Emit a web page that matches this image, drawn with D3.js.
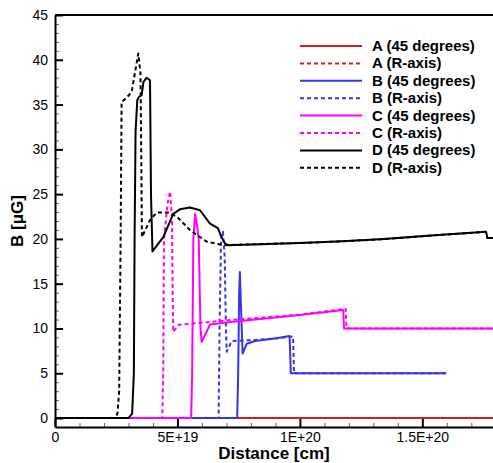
<!DOCTYPE html>
<html><head><meta charset="utf-8">
<script src="https://cdn.jsdelivr.net/npm/d3@7/dist/d3.min.js"></script>
<style>body{margin:0;background:#fff}svg{display:block;font-family:"Liberation Sans",Arial,Helvetica,sans-serif}</style>
</head><body>
<svg id="chart" width="493" height="463"></svg>
<script>
// Distances are given in units of 1E19 cm
const X_UNIT = 1e19;
const xTickValues = [0, 5e19, 1e20, 1.5e20];
const xTickLabels = ["0", "5E+19", "1E+20", "1.5E+20"];
const yTickValues = [0, 5, 10, 15, 20, 25, 30, 35, 40, 45];
const yTickLabels = ["0", "5", "10", "15", "20", "25", "30", "35", "40", "45"];

const seriesNames = ["A (45 degrees)", "A (R-axis)", "B (45 degrees)", "B (R-axis)",
                     "C (45 degrees)", "C (R-axis)", "D (45 degrees)", "D (R-axis)"];

const aDeg45 = [[0,0],[17.95,0]];
const aRaxis = [[0,0],[17.95,0]];
const bDeg45 = [[0,0],[7.44,0],[7.48,5],[7.52,14],[7.55,16.3],[7.6,12],[7.66,7.2],[7.83,8.3],[8.17,8.6],[9.05,8.9],[9.58,9.15],[9.63,5.0],[15.97,5.0]];
const bRaxis = [[0,0],[6.68,0],[6.72,10],[6.78,20],[6.86,20.8],[6.93,18],[6.98,10],[7.01,7.4],[7.22,8.6],[8.0,8.7],[9.05,8.9],[9.72,9.1],[9.76,5.0],[15.97,5.0]];
const cDeg45 = [[0,0],[5.56,0],[5.6,5],[5.65,20],[5.72,22.8],[5.8,21.5],[5.87,20],[5.94,10],[5.99,8.5],[6.33,10.45],[7.27,10.75],[10.0,11.5],[11.77,12.05],[11.8,10.0],[17.95,10.0]];
const cRaxis = [[0,0],[4.38,0],[4.42,5],[4.45,20],[4.6,24],[4.7,25.3],[4.78,22],[4.8,15],[4.83,9.6],[5.04,10.4],[7.0,10.9],[10.0,11.55],[11.87,12.2],[11.9,10.0],[17.95,10.0]];
const dDeg45 = [[0,0],[3.0,0],[3.15,0.5],[3.22,5],[3.25,20],[3.29,32],[3.36,35.5],[3.44,35.9],[3.54,36.05],[3.61,37.5],[3.74,38.0],[3.88,37.7],[3.92,25],[3.98,18.6],[4.42,20.2],[4.83,22.8],[5.10,23.3],[5.51,23.5],[5.92,23.2],[6.33,21.7],[6.65,21.2],[6.8,20.2],[6.94,19.5],[7.06,19.3],[10.0,19.55],[11.5,19.7],[13.27,19.95],[15.5,20.4],[17.6,20.8],[17.66,20.1],[17.95,20.1]];
const dRaxis = [[0,0],[2.45,0],[2.55,0.5],[2.62,3],[2.68,20],[2.72,35.3],[2.9,35.7],[3.13,36.4],[3.4,40.7],[3.49,38.5],[3.52,30],[3.55,20.2],[3.88,22.1],[4.15,22.95],[4.61,22.95],[4.97,22.5],[5.51,21.0],[6.19,19.7],[6.87,19.3],[10.0,19.55],[11.5,19.7],[13.27,19.95],[15.5,20.4],[17.6,20.8],[17.66,20.1],[17.95,20.1]];

const seriesData = [aDeg45, aRaxis, bDeg45, bRaxis, cDeg45, cRaxis, dDeg45, dRaxis];
const seriesColors = ["#e01818", "#e01818", "#3535e8", "#3535e8", "#ff00ff", "#ff00ff", "#000000", "#000000"];
const seriesDashed = [false, true, false, true, false, true, false, true];

const svg = d3.select("#chart");
const x = d3.scaleLinear().domain([0, 1.8e20]).range([55, 495.8]);
const y = d3.scaleLinear().domain([-1, 45]).range([427, 15]);

svg.append("defs").append("clipPath").attr("id", "clip")
  .append("rect").attr("x", 55).attr("y", 15).attr("width", 440).attr("height", 412);

// minor ticks
const xMinor = d3.range(1, 18).map(d => d * 1e19).filter(v => !xTickValues.includes(v));
const yMinor = d3.range(1, 45).filter(v => v % 5 !== 0);
svg.append("g").attr("transform", "translate(0,427)")
  .call(d3.axisBottom(x).tickValues(xMinor).tickSizeInner(-4).tickSizeOuter(0).tickFormat(""))
  .call(g => g.select(".domain").remove())
  .call(g => g.selectAll("line").attr("stroke", "#666").attr("stroke-width", 1));
svg.append("g").attr("transform", "translate(55,0)")
  .call(d3.axisLeft(y).tickValues(yMinor).tickSizeInner(-4).tickSizeOuter(0).tickFormat(""))
  .call(g => g.select(".domain").remove())
  .call(g => g.selectAll("line").attr("stroke", "#666").attr("stroke-width", 1));

// major axes
svg.append("g").attr("transform", "translate(0,427)")
  .call(d3.axisBottom(x).tickValues(xTickValues).tickSizeInner(-8).tickSizeOuter(0)
        .tickFormat((d, i) => xTickLabels[i]))
  .call(g => g.select(".domain").attr("stroke-width", 2))
  .call(g => g.selectAll("line").attr("stroke-width", 2))
  .call(g => g.selectAll("text").attr("font-size", 14).attr("font-family", "Liberation Sans, Arial, sans-serif").attr("fill", "#000").attr("y", 2).attr("dy", "0.95em"));
svg.append("g").attr("transform", "translate(55,0)")
  .call(d3.axisLeft(y).tickValues(yTickValues).tickSizeInner(-8).tickSizeOuter(0)
        .tickFormat((d, i) => yTickLabels[i]))
  .call(g => g.select(".domain").attr("stroke-width", 2))
  .call(g => g.selectAll("line").attr("stroke-width", 2))
  .call(g => g.selectAll("text").attr("font-size", 14).attr("font-family", "Liberation Sans, Arial, sans-serif").attr("fill", "#000").attr("x", -7));

// top border
svg.append("line").attr("x1", 55).attr("x2", 495).attr("y1", 15).attr("y2", 15)
  .attr("stroke", "#000").attr("stroke-width", 2);

// series lines
const line = d3.line().x(d => x(d[0] * X_UNIT)).y(d => y(d[1]));
const plot = svg.append("g").attr("clip-path", "url(#clip)");
seriesData.forEach((data, i) => {
  plot.append("path").datum(data)
    .attr("d", line)
    .attr("fill", "none")
    .attr("stroke", seriesColors[i])
    .attr("stroke-width", 2)
    .attr("stroke-linejoin", "round")
    .attr("stroke-dasharray", seriesDashed[i] ? "4,3" : null);
});

// legend
const legend = svg.append("g");
seriesNames.forEach((name, i) => {
  const yy = 46 + i * 17.4;
  legend.append("line").attr("x1", 300).attr("x2", 362).attr("y1", yy).attr("y2", yy)
    .attr("stroke", seriesColors[i]).attr("stroke-width", 2)
    .attr("stroke-dasharray", seriesDashed[i] ? "4,3" : null);
  legend.append("text").attr("x", 372).attr("y", yy + 5)
    .attr("font-size", 15).attr("font-weight", "bold").attr("fill", "#000").text(name);
});

// axis titles
svg.append("text").attr("x", 274).attr("y", 459).attr("text-anchor", "middle")
  .attr("font-size", 17).attr("font-weight", "bold").text("Distance [cm]");
svg.append("text").attr("transform", "translate(23,221) rotate(-90)").attr("text-anchor", "middle")
  .attr("font-size", 17).attr("font-weight", "bold").text("B [μG]");
</script>
</body></html>
